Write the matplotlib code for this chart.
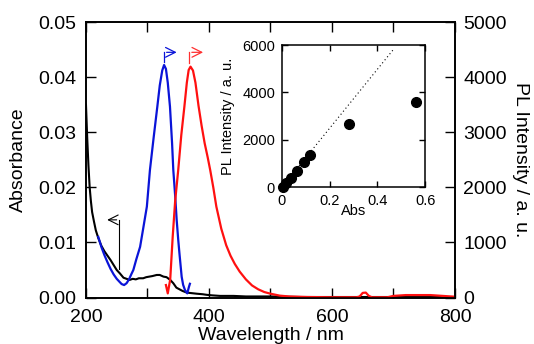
import numpy as np
import matplotlib
matplotlib.use('Agg')
import matplotlib.pyplot as plt

plt.rcParams['font.family'] = ['Liberation Sans', 'DejaVu Sans']

# absorbance (left axis)
abs_wl = [200, 202, 204, 206, 208, 210, 213, 216, 220, 225, 230, 235, 240, 245, 250, 255, 261,
          266, 271, 276, 281, 286, 293, 298, 303, 308, 315, 320, 326, 331, 337, 342, 347, 352,
          357, 364, 372, 380, 390, 396, 405, 418, 430, 440, 460, 480, 500, 550, 600, 650, 700, 750, 800]
abs_val = [0.035, 0.029, 0.024, 0.020, 0.0175, 0.0155, 0.0138, 0.0122, 0.0108, 0.0094, 0.0084,
           0.0076, 0.0068, 0.0059, 0.0050, 0.0044, 0.0036, 0.0034, 0.0032, 0.0034, 0.0033, 0.0035,
           0.0035, 0.0037, 0.0038, 0.0039, 0.0041, 0.0041, 0.0038, 0.0037, 0.0032, 0.0026, 0.0018,
           0.0015, 0.0012, 0.0009, 0.0008, 0.0007, 0.0006, 0.0005, 0.0004, 0.0003, 0.0003, 0.0003,
           0.0002, 0.0002, 0.0002, 0.0001, 0.0001, 0.0001, 0.0001, 0.0001, 0.0001]

# excitation spectrum (right axis)
ex_wl = [220, 225, 230, 235, 240, 245, 250, 255, 258, 262, 266, 270, 274, 277, 282, 288, 293, 299,
         304, 310, 316, 320, 324, 327, 330, 333, 336.6, 340, 342, 345, 347.5, 350, 352, 355.6, 358,
         361, 364.7, 367.5, 369]
ex_val = [1100, 920, 770, 640, 520, 420, 340, 280, 245, 227, 260, 330, 430, 500, 700, 920, 1250, 1650,
          2314, 2900, 3463, 3850, 4120, 4220, 4150, 3900, 3463, 2800, 2314, 1850, 1406, 1050, 800, 377,
          230, 136, 76, 196, 250]

# emission spectrum (right axis)
em_wl = [330, 333, 337, 341, 345, 350, 355, 360, 364, 367, 370, 374, 378, 383, 388, 393, 398, 402,
         407, 412, 420, 428, 435, 442, 450, 460, 470, 480, 490, 500, 515, 530, 560, 600, 640, 645,
         650, 655, 660, 665, 690, 700, 720, 760, 780, 800]
em_val = [227, 76, 330, 1100, 1750, 2314, 2950, 3463, 3900, 4130, 4190, 4120, 3900, 3480, 3120, 2800,
          2540, 2314, 2000, 1650, 1250, 950, 760, 610, 470, 330, 220, 150, 100, 70, 35, 20, 10, 5, 5,
          20, 85, 90, 30, 5, 5, 30, 45, 45, 30, 15]

# inset: PL intensity vs absorbance
ins_abs = [0.006, 0.019, 0.036, 0.061, 0.092, 0.117, 0.283, 0.56]
ins_pl = [13, 156, 367, 690, 1056, 1352, 2650, 3600]
fit_abs = [0, 0.471]
fit_pl = [0, 5860]

blue = '#0a14d8'
red = '#ff1010'

fig = plt.figure(figsize=(5.34, 3.44), dpi=100)
ax = fig.add_axes([0.161, 0.135, 0.691, 0.801])
ax2 = ax.twinx()

ax.plot(abs_wl, abs_val, color='black', lw=1.5, zorder=3)
ax2.plot(ex_wl, ex_val, color=blue, lw=1.6)
ax2.plot(em_wl, em_val, color=red, lw=1.6)

ax.set_xlim(200, 800)
ax.set_ylim(0, 0.05)
ax2.set_ylim(0, 5000)
ax.set_xticks([200, 400, 600, 800])
ax.set_xticks([300, 500, 700], minor=True)
ax.set_yticks([0, 0.01, 0.02, 0.03, 0.04, 0.05])
ax.set_yticklabels(['0.00', '0.01', '0.02', '0.03', '0.04', '0.05'])
ax2.set_yticks([0, 1000, 2000, 3000, 4000, 5000])

ax.tick_params(axis='both', which='both', direction='in', length=7, width=1,
               labelsize=14, top=True)
ax.tick_params(axis='x', which='both', pad=8)
ax.tick_params(axis='y', right=False, pad=7)
ax2.tick_params(axis='y', direction='in', length=7, width=1, labelsize=14, pad=6)
for a in (ax, ax2):
    for s in a.spines.values():
        s.set_linewidth(1.2)

ax.set_xlabel('Wavelength / nm', fontsize=14, labelpad=1)
ax.set_ylabel('Absorbance', fontsize=14, labelpad=8)
ax2.set_ylabel('PL Intensity / a. u.', fontsize=14, rotation=270, labelpad=16)

# arrows
head = '->,head_length=0.7,head_width=0.35'
ax2.plot([327, 327], [4274, 4450], color=blue, lw=0.9)
ax2.annotate('', xy=(352, 4450), xytext=(326.6, 4450),
             arrowprops=dict(arrowstyle=head, color=blue, lw=0.9))
ax2.plot([368, 368], [4250, 4450], color='#ff3030', lw=0.9)
ax2.annotate('', xy=(395, 4450), xytext=(367.6, 4450),
             arrowprops=dict(arrowstyle=head, color='#ff3030', lw=0.9))
ax.plot([254, 254], [0.0052, 0.0141], color='black', lw=0.8)
ax.annotate('', xy=(230, 0.0141), xytext=(254.4, 0.0141),
            arrowprops=dict(arrowstyle=head, color='black', lw=0.8))

# inset
ins = fig.add_axes([0.528, 0.456, 0.268, 0.413])
ins.plot(fit_abs, fit_pl, color='black', ls=(0, (1, 2.5)), lw=0.8)
ins.plot(ins_abs, ins_pl, 'o', color='black', ms=7, clip_on=False, zorder=4)
ins.set_xlim(0, 0.6)
ins.set_ylim(0, 6000)
ins.set_xticks([0, 0.2, 0.4, 0.6])
ins.set_xticklabels(['0', '0.2', '0.4', '0.6'])
ins.set_yticks([0, 2000, 4000, 6000])
ins.tick_params(direction='in', length=4, width=1, labelsize=10.5, top=True, right=True)
ins.tick_params(axis='x', pad=5)
ins.tick_params(axis='y', pad=5)
for s in ins.spines.values():
    s.set_linewidth(1.1)
ins.set_xlabel('Abs', fontsize=10.5, labelpad=-3)
ins.set_ylabel('PL Intensity / a. u.', fontsize=10.5, labelpad=5)

fig.savefig('out.png', dpi=100)
